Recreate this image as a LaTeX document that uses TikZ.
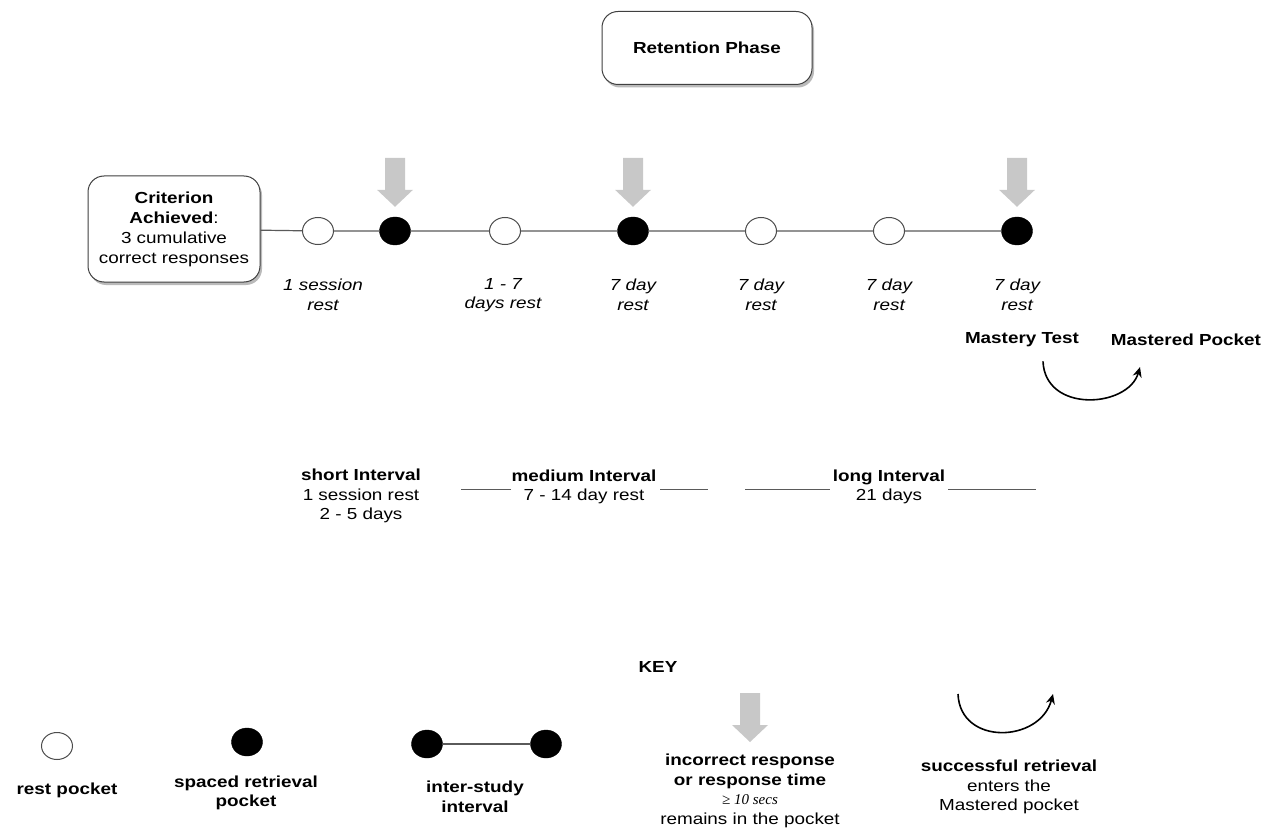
\documentclass[tikz,border=0pt]{standalone}
\usepackage{fontspec}
\setmainfont{Liberation Sans}[FakeStretch=1.18]
\newfontfamily\serifit{Liberation Serif}
\usetikzlibrary{shadows,arrows.meta,calc,shapes.geometric}
\definecolor{arrowgray}{RGB}{200,200,200}
\definecolor{linegray}{RGB}{90,90,90}
\begin{document}
\begin{tikzpicture}[x=1pt,y=-1pt,
  txt/.style={font=\fontsize{16}{19.5}\selectfont, align=center, inner sep=0pt},
  boldtxt/.style={txt, font=\fontsize{16}{19.5}\selectfont\bfseries},
  lab/.style={txt, font=\fontsize{16}{19.5}\selectfont\itshape},
  roundbox/.style={draw=black!75, line width=1pt, fill=white, rounded corners=16pt, align=center,
     font=\fontsize{16}{20}\selectfont,
     drop shadow={shadow xshift=2pt, shadow yshift=-3pt, opacity=0.45, fill=black!60}},
  restpocket/.style={ellipse, draw=black!70, line width=1pt, fill=white, minimum width=31pt, minimum height=27pt, inner sep=0pt},
  srpocket/.style={ellipse, fill=black, draw=black, minimum width=31pt, minimum height=28pt, inner sep=0pt},
  mainline/.style={draw=linegray, line width=1.2pt},
  curvearrow/.style={draw=black, line width=1.6pt, -{Stealth[length=10pt,width=9pt]}},
  garrow/.pic={\fill[arrowgray] (-10,-49) -- (10,-49) -- (10,-17) -- (18,-17) -- (0,0) -- (-18,-17) -- (-10,-17) -- cycle;}
]
\useasboundingbox (0,0) rectangle (1276,834);
\fill[white] (0,0) rectangle (1276,834);

% Retention phase box
\node[roundbox, minimum width=210pt, minimum height=73pt, font=\fontsize{16}{19.5}\selectfont\bfseries] (ret) at (707,48) {Retention Phase};

% Criterion box
\node[roundbox, minimum width=172pt, minimum height=106pt, inner sep=0pt] (crit) at (174,229)
  {\textbf{Criterion}\\\textbf{Achieved}:\\3 cumulative\\correct responses};

% pockets on the timeline
\node[restpocket] (p1) at (318,231) {};
\node[srpocket]   (p2) at (395,231) {};
\node[restpocket] (p3) at (505,231) {};
\node[srpocket]   (p4) at (633,231) {};
\node[restpocket] (p5) at (761,231) {};
\node[restpocket] (p6) at (889,231) {};
\node[srpocket]   (p7) at (1017,231) {};

\draw[mainline] (crit) -- (p1) -- (p2) -- (p3) -- (p4) -- (p5) -- (p6) -- (p7);

% gray arrows above the retrieval pockets
\path ($(p2.north)+(0,-10)$) pic {garrow};
\path ($(p4.north)+(0,-10)$) pic {garrow};
\path ($(p7.north)+(0,-10)$) pic {garrow};

% labels under the timeline
\node[lab] (l1) at (323,295) {1 session\\rest};
\node[lab] (l3) at (503,295) {1 - 7\\days rest};
\node[lab] (l4) at (633,295) {7 day\\rest};
\node[lab] (l5) at (761,295) {7 day\\rest};
\node[lab] (l6) at (889,295) {7 day\\rest};
\node[lab] (l7) at (1017,295) {7 day\\rest};

% mastery
\node[boldtxt] (mt) at (1022,340) {Mastery Test};
\node[boldtxt] (mp) at (1186,340) {Mastered Pocket};
\coordinate (ms) at ($(mt.south)+(21,14)$);
\coordinate (me) at ($(mp.south)+(-46,21)$);
\draw[curvearrow] (ms) .. controls ($(ms)+(2,52)$) and ($(me)+(-12,41)$) .. (me);

% intervals
\node[txt] (si) at (361,496) {\textbf{short Interval}\\1 session rest\\2 - 5 days};
\node[txt] (mi) at (584,487) {\textbf{medium Interval}\\7 - 14 day rest};
\node[txt] (li) at (889,487) {\textbf{long Interval}\\21 days};
\coordinate (m1a) at (461,489); \coordinate (m1b) at (511,489);
\coordinate (m2a) at (660,489); \coordinate (m2b) at (708,489);
\coordinate (l1a) at (745,489); \coordinate (l1b) at (830,489);
\coordinate (l2a) at (948,489); \coordinate (l2b) at (1036,489);
\draw[mainline, line width=1pt] (m1a) -- (m1b);
\draw[mainline, line width=1pt] (m2a) -- (m2b);
\draw[mainline, line width=1pt] (l1a) -- (l1b);
\draw[mainline, line width=1pt] (l2a) -- (l2b);

% KEY
\node[boldtxt] (key) at (658,667) {KEY};
\node[restpocket] (k1) at (57,746) {};
\node[boldtxt] (k1t) at (67,790) {rest pocket};
\node[srpocket] (k2) at (247,742) {};
\node[boldtxt] (k2t) at (246,793) {spaced retrieval\\pocket};
\node[srpocket] (k3a) at (427,744) {};
\node[srpocket] (k3b) at (546,744) {};
\draw[mainline] (k3a) -- (k3b);
\node[boldtxt] (k3t) at (475,797) {inter-study\\interval};
\coordinate (k4) at (750,742);
\path (k4) pic {garrow};
\node[txt] (k4t) at (750,791) {\textbf{incorrect response}\\\textbf{or response time}\\{\serifit\itshape\fontsize{15}{19.5}\selectfont ≥ 10 secs}\\remains in the pocket};
\coordinate (ks) at (958,694);
\coordinate (ke) at (1053,694);
\draw[curvearrow] (ks) .. controls (960,746) and (1040,743) .. (ke);
\node[txt] (k5t) at (1009,787) {\textbf{successful retrieval}\\enters the\\Mastered pocket};
\end{tikzpicture}
\end{document}
